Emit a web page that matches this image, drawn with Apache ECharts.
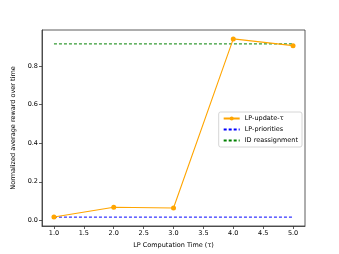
<!DOCTYPE html>
<html><head><meta charset="utf-8">
<script src="https://cdn.jsdelivr.net/npm/echarts@6/dist/echarts.min.js"></script>
<style>html,body{margin:0;padding:0;background:#fff}#c{width:339px;height:254px}</style>
</head><body><div id="c"></div>
<script>
const xValues = [1.0, 2.0, 3.0, 4.0, 5.0];
const lpUpdate = [0.018, 0.068, 0.064, 0.940, 0.905];
const lpPriorities = [0.017, 0.017, 0.017, 0.017, 0.017];
const idReassign = [0.914, 0.914, 0.914, 0.914, 0.914];
const xTicks = [1.0, 1.5, 2.0, 2.5, 3.0, 3.5, 4.0, 4.5, 5.0];
const yTicks = [0.0, 0.2, 0.4, 0.6, 0.8];
const names = ['LP-update-τ', 'LP-priorities', 'ID reassignment'];

const font = 'DejaVu Sans';
const fs = 6.5;
const chart = echarts.init(document.getElementById('c'), null, {renderer: 'canvas'});
const pair = (ys) => xValues.map((x, i) => [x, ys[i]]);
chart.setOption({
  animation: false,
  backgroundColor: '#fff',
  grid: {left: 42, right: 34, top: 30, bottom: 28, show: true, borderColor: '#333', borderWidth: 0.8, containLabel: false},
  xAxis: {
    type: 'value', min: 0.8, max: 5.2,
    name: 'LP Computation Time (τ)', nameLocation: 'middle', nameGap: 16,
    nameTextStyle: {fontFamily: font, fontSize: fs, color: '#000'},
    axisLine: {show: true, onZero: false, lineStyle: {color: '#333', width: 0.8}},
    axisTick: {show: true, length: 3, customValues: xTicks, lineStyle: {color: '#333', width: 0.8}},
    axisLabel: {customValues: xTicks, formatter: v => v.toFixed(1), fontFamily: font, fontSize: fs, color: '#000', margin: 4},
    splitLine: {show: false}
  },
  yAxis: {
    type: 'value', min: -0.029, max: 0.986,
    name: 'Normalized average reward over time', nameLocation: 'middle', nameGap: 24,
    nameTextStyle: {fontFamily: font, fontSize: fs, color: '#000'},
    axisLine: {show: true, onZero: false, lineStyle: {color: '#333', width: 0.8}},
    axisTick: {show: true, length: 3, customValues: yTicks, lineStyle: {color: '#333', width: 0.8}},
    axisLabel: {customValues: yTicks, formatter: v => v.toFixed(1), fontFamily: font, fontSize: fs, color: '#000', margin: 4},
    splitLine: {show: false}
  },
  legend: {
    right: 37, top: 112, orient: 'vertical',
    itemWidth: 16, itemHeight: 5, itemGap: 4,
    padding: [3, 4, 3, 4],
    backgroundColor: '#fff', borderColor: '#ccc', borderWidth: 0.8, borderRadius: 2,
    textStyle: {fontFamily: font, fontSize: fs, color: '#000'},
    data: [
      {name: names[0]},
      {name: names[1], itemStyle: {opacity: 0}},
      {name: names[2], itemStyle: {opacity: 0}}
    ]
  },
  series: [
    {name: names[0], type: 'line', data: pair(lpUpdate), color: '#FFA500',
     symbol: 'circle', symbolSize: 5, lineStyle: {width: 1.1, color: '#FFA500'}, itemStyle: {color: '#FFA500'}, z: 5},
    {name: names[1], type: 'line', data: pair(lpPriorities), color: '#0000ff',
     symbol: 'none', lineStyle: {width: 1, type: [3, 2], color: '#0000ff'}, itemStyle: {color: '#0000ff'}},
    {name: names[2], type: 'line', data: pair(idReassign), color: '#008000',
     symbol: 'none', lineStyle: {width: 1, type: [3, 2], color: '#008000'}, itemStyle: {color: '#008000'}}
  ]
});
</script></body></html>
